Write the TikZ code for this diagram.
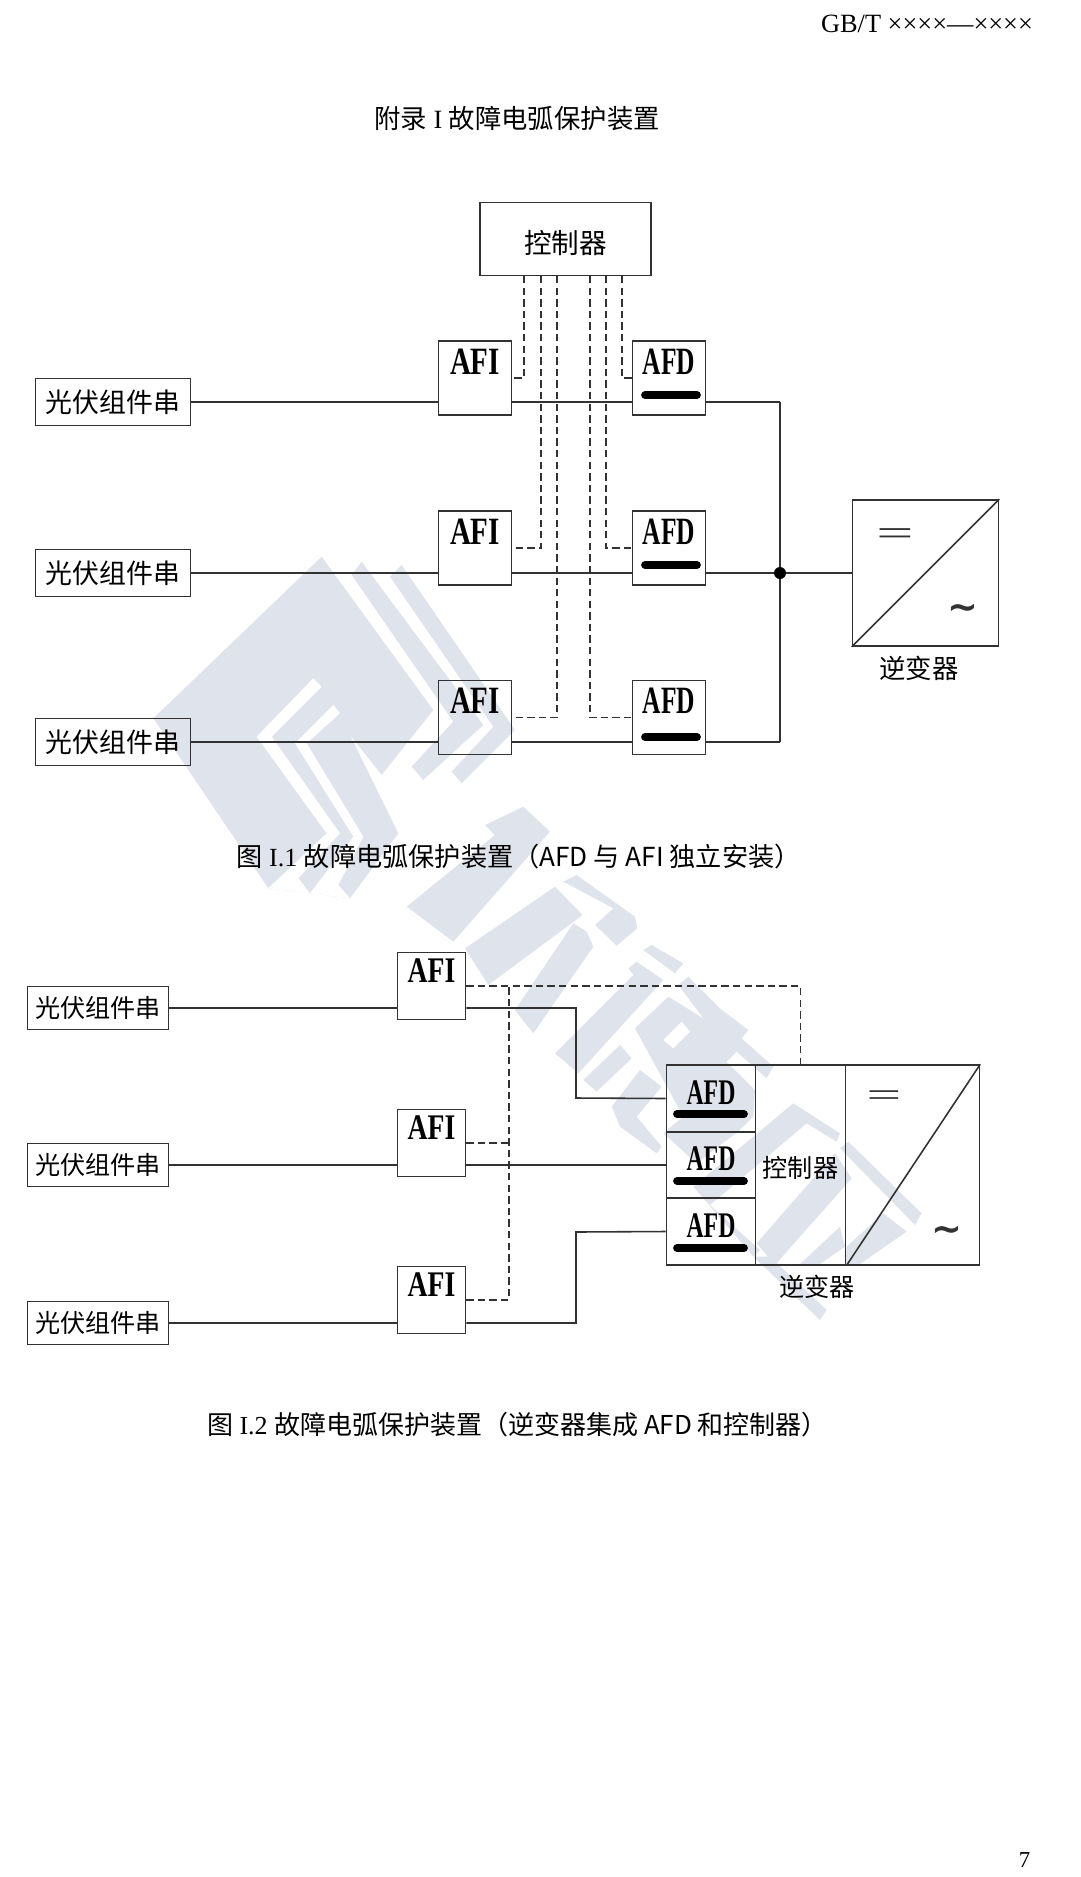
\documentclass[tikz,border=0pt]{standalone}
\usepackage{fontspec}
\setmainfont{Noto Sans CJK SC}
\newfontfamily\timesface{Liberation Serif}
\newfontfamily\dejaface{DejaVu Sans}
\usetikzlibrary{positioning}
\usetikzlibrary{calc}
\definecolor{markgray}{RGB}{223,227,236}
\definecolor{linegray}{RGB}{50,50,50}
\newcommand{\boxlabel}[2]{\scalebox{#1}[1]{\timesface\bfseries #2}}
\newcommand{\dcsign}{\scalebox{1.25}[.7]{\timesface =}}
\newcommand{\acsign}{{\dejaface\bfseries\fontsize{21}{21}\selectfont\char"223C}}
\begin{document}
\begin{tikzpicture}[x=0.02cm,y=-0.02cm]
	\tikzstyle{wmark}=[fill=markgray, draw=none]
	\tikzstyle{wmarkcut}=[fill=white, draw=none]
	\tikzstyle{wire}=[draw=linegray, line width=0.9pt]
	\tikzstyle{dashwire}=[draw=linegray, line width=0.7pt, dash pattern=on 4.2pt off 2.4pt]
	\tikzstyle{afdbar}=[draw=black, line width=4.4pt, line cap=round]
	\tikzstyle{pvbox}=[rectangle, wire, inner sep=0pt, minimum width=3.1cm, minimum height=0.94cm, font=\fontsize{15.3}{18}\selectfont]
	\tikzstyle{pvboxb}=[rectangle, wire, inner sep=0pt, minimum width=2.82cm, minimum height=0.86cm, font=\fontsize{14.3}{18}\selectfont]
	\tikzstyle{afbox}=[rectangle, wire, inner sep=0pt, minimum width=1.46cm, text height=0.66cm, text depth=0.82cm, font=\fontsize{22}{24}\selectfont]
	\tikzstyle{afiboxb}=[rectangle, wire, inner sep=0pt, minimum width=1.36cm, text height=0.60cm, text depth=0.74cm, font=\fontsize{20.5}{24}\selectfont]
	\tikzstyle{afdcell}=[rectangle, wire, inner sep=0pt, minimum width=1.78cm, text height=0.78cm, text depth=0.553cm, font=\fontsize{20.5}{24}\selectfont]
	\tikzstyle{plain}=[inner sep=0pt, font=\fontsize{15}{18}\selectfont]
	\tikzstyle{sign}=[inner sep=0pt, text=linegray, font=\fontsize{30}{30}\selectfont]

	\useasboundingbox (0,0) rectangle (1080,1877);

	% watermark
	\begin{scope}[shift={(140,540)},scale=0.3333]
		\fill[wmark] (545,50) -- (880,510) -- (725,705) -- (630,585) -- (775,880) -- (630,1075) -- (510,1060) -- (385,1045) -- (40,535) -- cycle;
		\fill[wmarkcut] (520,415) -- (545,440) -- (395,590) -- (600,880) -- (475,1015) -- (510,1060) -- (385,1045) -- (560,880) -- (350,590) -- cycle;
		\fill[wmarkcut] (580,495) -- (600,520) -- (500,610) -- (670,890) -- (595,1035) -- (630,1075) -- (510,1060) -- (640,890) -- (465,610) -- cycle;
		\fill[wmark] (665,65) -- (1030,555) -- (850,720) -- (815,680) -- (940,545) -- (635,105) -- cycle;
		\fill[wmark] (785,75) -- (1125,570) -- (965,730) -- (935,695) -- (1060,560) -- (750,110) -- cycle;
	\end{scope}
	\begin{scope}[shift={(400,800)},scale=0.3333]
		\fill[wmark] (20,320) -- (285,105) -- (255,75) -- (370,20) -- (450,95) -- (160,425) -- cycle;
		\fill[wmark] (490,245) -- (530,225) -- (705,350) -- (712,385) -- (650,437) -- (585,375) -- (640,325) -- cycle;
		\fill[wmark] (195,445) -- (465,260) -- (548,345) -- (265,555) -- cycle;
		\fill[wmark] (345,630) -- (520,370) -- (560,395) -- (580,440) -- (400,700) -- cycle;
	\end{scope}
	\begin{scope}[shift={(540,930)},scale=0.3333]
		\fill[wmark] (45,370) -- (280,135) -- (265,115) -- (290,95) -- (370,150) -- (115,430) -- cycle;
		\fill[wmark] (310,60) -- (335,45) -- (430,100) -- (405,130) -- cycle;
		\fill[wmark] (285,295) -- (385,200) -- (490,265) -- (415,165) -- (445,140) -- (540,235) -- (625,300) -- (605,325) -- (700,410) -- (680,445) -- (590,365) -- (560,395) -- (645,480) -- (640,560) -- (600,600) -- (470,700) -- (370,610) -- (430,560) -- cycle;
		\fill[wmarkcut] (370,330) -- (425,275) -- (450,305) -- (400,355) -- cycle;
		\fill[wmark] (130,450) -- (240,345) -- (275,385) -- (170,485) -- cycle;
		\fill[wmark] (215,530) -- (300,420) -- (365,470) -- (290,560) -- (365,650) -- (350,670) -- (240,590) -- cycle;
	\end{scope}
	\begin{scope}[shift={(660,1110)},scale=0.3333]
		\fill[wmark] (100,230) -- (400,-20) -- (540,70) -- (530,95) -- (440,40) -- (150,285) -- cycle;
		\fill[wmark] (290,400) -- (525,130) -- (575,205) -- (345,465) -- cycle;
		\fill[wmark] (280,440) -- (330,440) -- (500,600) -- (480,630) -- cycle;
		\fill[wmark] (540,115) -- (565,95) -- (785,310) -- (765,345) -- cycle;
		\fill[wmark] (555,462) -- (560,410) -- (670,310) -- (740,365) -- (600,462) -- cycle;
		\fill[wmark] (420,462) -- (540,350) -- (555,410) -- (480,462) -- cycle;
		\fill[wmark] (100,230) -- (150,285) -- (300,420) -- (280,440) -- cycle;
	\end{scope}

	% header and title
	\node at (927,24) [plain] (header) {\timesface GB/T ××××—××××};
	\node at (517,118) [plain] (title) {附录{\timesface\ I\ }故障电弧保护装置};

	% figure I.1
	\node at (565.5,239) [rectangle, wire, inner sep=0pt, text height=0.63cm, text depth=0.07cm, minimum width=3.42cm, minimum height=1.46cm, font=\fontsize{15.7}{18}\selectfont] (ctl) {控制器};
	\coordinate (c1) at (524,276);
	\coordinate (c2) at (541,276);
	\coordinate (c3) at (557,276);
	\coordinate (c4) at (590,276);
	\coordinate (c5) at (606,276);
	\coordinate (c6) at (622,276);
	\coordinate (bus1) at (780,402);
	\coordinate (bus3) at (780,742);

	\node at (113,402) [pvbox] (pv1) {光伏组件串};
	\node at (475,378) [afbox] (afi1) {\boxlabel{.75}{AFI}};
	\node at (669,378) [afbox] (afd1) {\boxlabel{.66}{AFD}};
	\draw [wire] (pv1) -- (pv1 -| afi1.west);
	\draw [wire] (pv1 -| afi1.east) -- (pv1 -| afd1.west);
	\draw [wire] (pv1 -| afd1.east) -- (bus1);
	\draw [dashwire] (c1) |- (afi1.east);
	\draw [dashwire] (c6) |- (afd1.west);
	\draw [afdbar] (645,395) -- (697,395);

	\node at (113,573) [pvbox] (pv2) {光伏组件串};
	\node at (475,548) [afbox] (afi2) {\boxlabel{.75}{AFI}};
	\node at (669,548) [afbox] (afd2) {\boxlabel{.66}{AFD}};
	\draw [wire] (pv2) -- (pv2 -| afi2.west);
	\draw [wire] (pv2 -| afi2.east) -- (pv2 -| afd2.west);
	\draw [dashwire] (c2) |- (afi2.east);
	\draw [dashwire] (c5) |- (afd2.west);
	\draw [afdbar] (645,565) -- (697,565);

	\node at (113,742) [pvbox] (pv3) {光伏组件串};
	\node at (475,717.5) [afbox] (afi3) {\boxlabel{.75}{AFI}};
	\node at (669,717.5) [afbox] (afd3) {\boxlabel{.66}{AFD}};
	\draw [wire] (pv3) -- (pv3 -| afi3.west);
	\draw [wire] (pv3 -| afi3.east) -- (pv3 -| afd3.west);
	\draw [wire] (pv3 -| afd3.east) -- (bus3);
	\draw [dashwire] (c3) |- (afi3.east);
	\draw [dashwire] (c4) |- (afd3.west);
	\draw [afdbar] (645,737) -- (697,737);

	\node at (925.5,573) [rectangle, wire, minimum width=2.92cm, minimum height=2.92cm] (inv) {};
	\node at (780,573) [circle, fill=black, inner sep=0pt, minimum size=0.24cm] (joint) {};
	\draw [wire] (bus1) -- (joint);
	\draw [wire] (joint) -- (bus3);
	\draw [wire] (pv2 -| afd2.east) -- (joint);
	\draw [wire] (joint) -- (inv.west);
	\draw [wire] (inv.south west) -- (inv.north east);
	\node at (895,537) [sign] (dc) {\dcsign};
	\node at (963,612) [sign] (ac) {\acsign};
	\node at (919,668) [plain] (invname) {逆变器};
	\node at (518.5,856.5) [plain, font=\fontsize{14.9}{18}\selectfont] (cap1) {图{\timesface\ I.1\ }故障电弧保护装置（AFD 与 AFI 独立安装）};

	% figure I.2
	\node at (98,1008) [pvboxb] (pva) {光伏组件串};
	\node at (431.5,986) [afiboxb] (afia) {\boxlabel{.77}{AFI}};
	\node at (98,1165) [pvboxb] (pvb) {光伏组件串};
	\node at (431.5,1143) [afiboxb] (afib) {\boxlabel{.77}{AFI}};
	\node at (98,1323) [pvboxb] (pvc) {光伏组件串};
	\node at (431.5,1300) [afiboxb] (afic) {\boxlabel{.77}{AFI}};

	\node at (823,1165) [rectangle, wire, minimum width=6.26cm, minimum height=4cm] (inv2) {};
	\node at (800.5,1165) [rectangle, wire, inner sep=0pt, text height=0.58cm, text depth=0.07cm, minimum width=1.8cm, minimum height=4cm, font=\fontsize{14.3}{18}\selectfont] (ctl2) {控制器};
	\node at (711,1098.5) [afdcell] (afda) {\boxlabel{.66}{AFD}};
	\node at (711,1165) [afdcell] (afdb) {\boxlabel{.66}{AFD}};
	\node at (711,1231.5) [afdcell] (afdc) {\boxlabel{.66}{AFD}};
	\draw [afdbar] (677,1114) -- (744,1114);
	\draw [afdbar] (677,1181) -- (744,1181);
	\draw [afdbar] (677,1248) -- (744,1248);
	\draw [wire] (ctl2.south east) -- (inv2.north east);
	\node at (884,1099) [sign, font=\fontsize{28}{28}\selectfont] (dc2) {\dcsign};
	\node at (947,1234) [sign] (ac2) {\acsign};
	\node at (817,1287) [plain, font=\fontsize{14.3}{18}\selectfont] (invname2) {逆变器};

	\coordinate (benda) at (576,1098);
	\coordinate (bendc) at (576,1232);
	\coordinate (dashtop) at (509,986);
	\draw [wire] (pva) -- (pva -| afia.west);
	\draw [wire] (pva -| afia.east) -- (pva -| benda) -- (benda) -- (afda.west);
	\draw [wire] (pvb) -- (pvb -| afib.west);
	\draw [wire] (pvb -| afib.east) -- (pvb -| afdb.west);
	\draw [wire] (pvc) -- (pvc -| afic.west);
	\draw [wire] (pvc -| afic.east) -- (pvc -| bendc) -- (bendc) -- (afdc.west);
	\draw [dashwire] (afia.east) -| (ctl2.north);
	\draw [dashwire] (afib.east) -- (afib.east -| dashtop);
	\draw [dashwire] (afic.east) -| (dashtop);
	\node at (517.5,1424.5) [plain, font=\fontsize{14.8}{18}\selectfont] (cap2) {图{\timesface\ I.2\ }故障电弧保护装置（逆变器集成 AFD 和控制器）};

	\node at (1024.5,1860) [plain, font=\fontsize{13}{16}\selectfont] (pageno) {\timesface 7};
\end{tikzpicture}
\end{document}
